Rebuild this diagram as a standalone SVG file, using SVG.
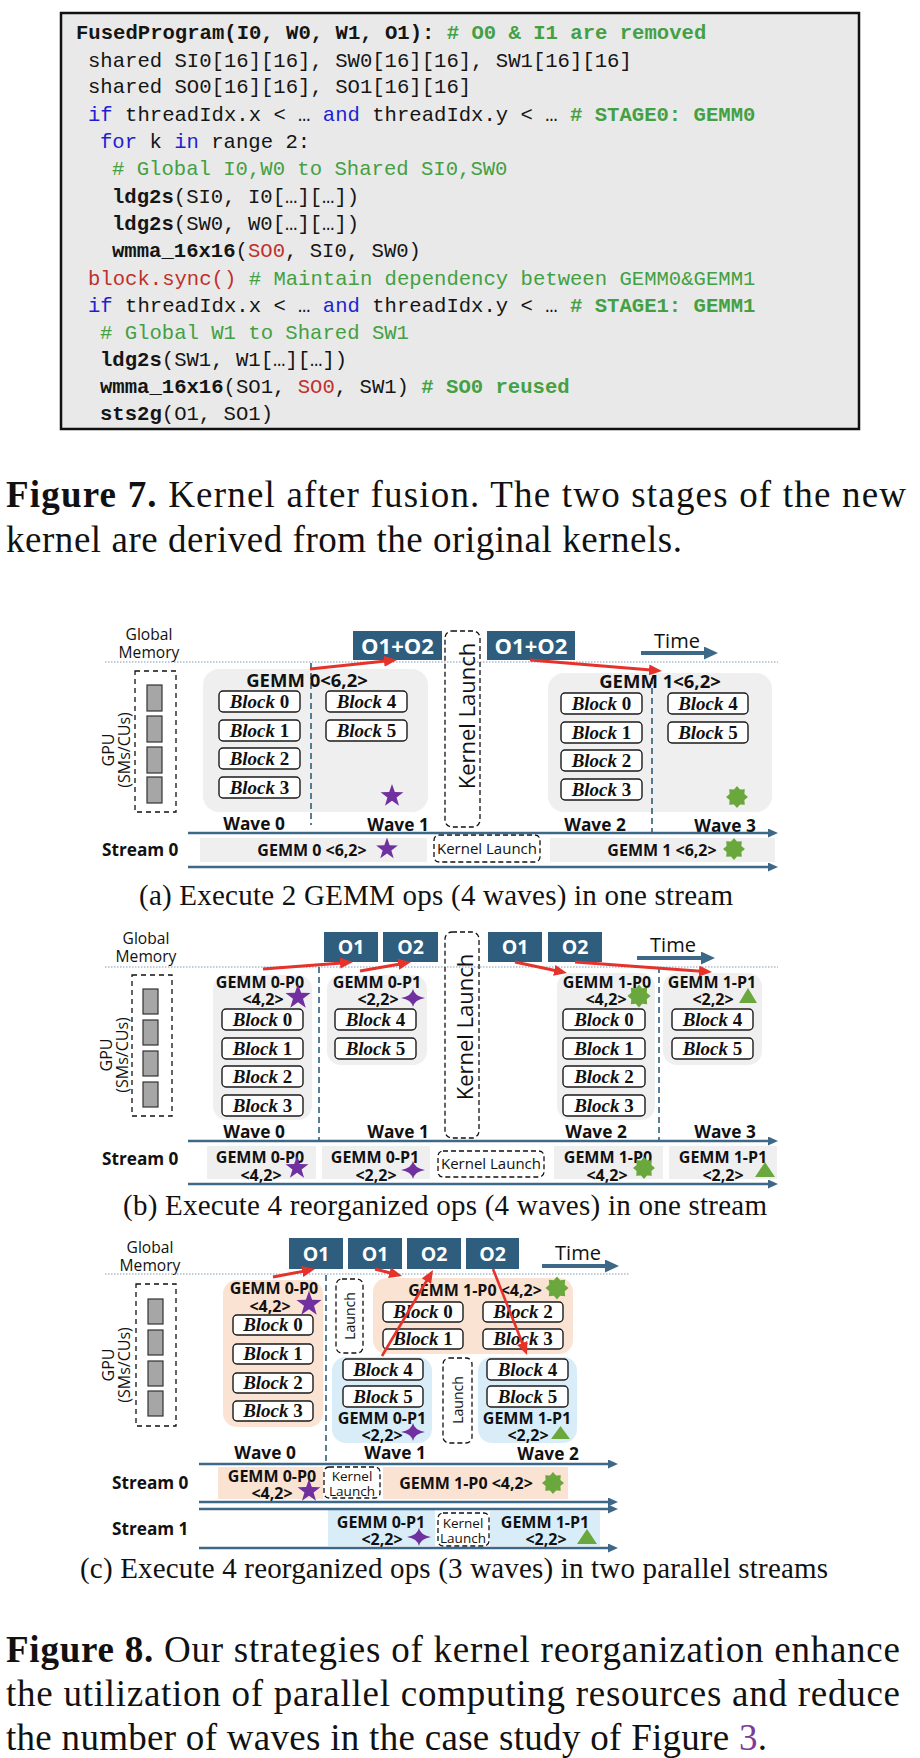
<svg xmlns="http://www.w3.org/2000/svg" width="920" height="1758" viewBox="0 0 920 1758">
<style>
.code{font-family:"Liberation Mono","DejaVu Sans Mono",monospace;font-size:20.6px;fill:#151515}
.cb{font-weight:700}
.kw{fill:#1f1fd1}
.cm{fill:#43a043}
.rd{fill:#c0302b}
.cap{font-family:"Liberation Serif","Times New Roman",serif;fill:#111}
.s{font-family:"Open Sans","Noto Sans",sans-serif;fill:#111}
.gm{font-size:15.6px}
.time{font-size:20px}
.kl{font-size:22px}
.ob{font-size:22px;font-weight:700;fill:#fff}
.ob2{font-size:19.5px;font-weight:700;fill:#fff}
.glab{font-size:18.5px;font-weight:700}
.plab{font-size:16px;font-weight:700}
.wave{font-size:17.3px;font-weight:700}
.strm{font-size:17.2px;font-weight:700}
.gpu{font-size:16px}
.skl{font-size:15px}
.tiny{font-size:13.5px}
.blk{fill:#fff;stroke:#1a1a1a;stroke-width:1.4}
.blt{font-family:"Liberation Serif","Times New Roman",serif;font-weight:700;font-style:italic;font-size:19px;fill:#111}
.obox{fill:#2e5d7d}
.gray{fill:#efefef}
.peach{fill:#fbe3d3}
.blue{fill:#d9edf8}
.dash{fill:none;stroke:#111;stroke-width:1.3;stroke-dasharray:5 3}
.wsep{stroke:#2e5d7d;stroke-width:1.6;stroke-dasharray:6 4}
.dot{stroke:#7f9db8;stroke-width:1.2;stroke-dasharray:1.5 1.5}
.sl{stroke:#3d6888;stroke-width:2.4;marker-end:url(#ba)}
.tl{stroke:#3d6888;stroke-width:4;marker-end:url(#ta)}
.ra{stroke:#e5322a;stroke-width:3;marker-end:url(#ra)}
.sm{fill:#a6a6a6;stroke:#333;stroke-width:1.2}
.pur{fill:#7030a0}
.grn{fill:#6aa83e}
</style>
<defs>
<marker id="ba" markerUnits="userSpaceOnUse" markerWidth="10" markerHeight="9" viewBox="0 0 10 9" refX="1" refY="4.5" orient="auto"><path d="M0,0 L10,4.5 L0,9 Z" fill="#3d6888"/></marker>
<marker id="ta" markerUnits="userSpaceOnUse" markerWidth="14" markerHeight="13" viewBox="0 0 14 13" refX="1" refY="6.5" orient="auto"><path d="M0,0 L14,6.5 L0,13 Z" fill="#3d6888"/></marker>
<marker id="ra" markerUnits="userSpaceOnUse" markerWidth="13" markerHeight="11" viewBox="0 0 13 11" refX="2" refY="5.5" orient="auto"><path d="M0,0 L13,5.5 L0,11 Z" fill="#e5322a"/></marker>
<path id="st5" d="M0,-12 L2.82,-3.88 L11.41,-3.71 L4.57,1.48 L7.05,9.71 L0,4.8 L-7.05,9.71 L-4.57,1.48 L-11.41,-3.71 L-2.82,-3.88 Z"/>
<path id="st4" d="M0,-9 Q1.6,-1.6 12,0 Q1.6,1.6 0,9 Q-1.6,1.6 -12,0 Q-1.6,-1.6 0,-9 Z"/>
<path id="brst" d="M0,-11 L3.06,-7.39 L7.78,-7.78 L7.39,-3.06 L11,0 L7.39,3.06 L7.78,7.78 L3.06,7.39 L0,11 L-3.06,7.39 L-7.78,7.78 L-7.39,3.06 L-11,0 L-7.39,-3.06 L-7.78,-7.78 L-3.06,-7.39 Z"/>
</defs>
<rect width="920" height="1758" fill="#fff"/>

<!-- Figure 7 code -->
<g id="code">
<rect x="61" y="13" width="798" height="416" fill="#e9e9e9" stroke="#111" stroke-width="2.5"/>
<text class="code" x="76" y="39"><tspan class="cb">FusedProgram(I0, W0, W1, O1): </tspan><tspan class="cb cm"># O0 &amp; I1 are removed</tspan></text>
<text class="code" x="88" y="67">shared SI0[16][16], SW0[16][16], SW1[16][16]</text>
<text class="code" x="88" y="93">shared SO0[16][16], SO1[16][16]</text>
<text class="code" x="88" y="121"><tspan class="kw">if</tspan> threadIdx.x &lt; … <tspan class="kw">and</tspan> threadIdx.y &lt; … <tspan class="cb cm"># STAGE0: GEMM0</tspan></text>
<text class="code" x="100" y="148"><tspan class="kw">for</tspan> k <tspan class="kw">in</tspan> range 2:</text>
<text class="code cm" x="112" y="175"># Global I0,W0 to Shared SI0,SW0</text>
<text class="code" x="112" y="203"><tspan class="cb">ldg2s</tspan>(SI0, I0[…][…])</text>
<text class="code" x="112" y="230"><tspan class="cb">ldg2s</tspan>(SW0, W0[…][…])</text>
<text class="code" x="112" y="257"><tspan class="cb">wmma_16x16</tspan>(<tspan class="rd">SO0</tspan>, SI0, SW0)</text>
<text class="code" x="88" y="285"><tspan class="rd">block.sync()</tspan> <tspan class="cm"># Maintain dependency between GEMM0&amp;GEMM1</tspan></text>
<text class="code" x="88" y="312"><tspan class="kw">if</tspan> threadIdx.x &lt; … <tspan class="kw">and</tspan> threadIdx.y &lt; … <tspan class="cb cm"># STAGE1: GEMM1</tspan></text>
<text class="code cm" x="100" y="339"># Global W1 to Shared SW1</text>
<text class="code" x="100" y="366"><tspan class="cb">ldg2s</tspan>(SW1, W1[…][…])</text>
<text class="code" x="100" y="393"><tspan class="cb">wmma_16x16</tspan>(SO1, <tspan class="rd">SO0</tspan>, SW1) <tspan class="cb cm"># SO0 reused</tspan></text>
<text class="code" x="100" y="420"><tspan class="cb">sts2g</tspan>(O1, SO1)</text>
</g>

<g id="fig7-caption">
<text class="cap" x="6" y="507" font-size="37" textLength="900" lengthAdjust="spacing"><tspan font-weight="700">Figure 7.</tspan> Kernel after fusion. The two stages of the new</text>
<text class="cap" x="6" y="552" font-size="37" textLength="676" lengthAdjust="spacing">kernel are derived from the original kernels.</text>
</g>

<!-- ===== (a) ===== -->
<g id="a-labels">
<text class="s gm" x="149" y="640" text-anchor="middle">Global</text>
<text class="s gm" x="149" y="658" text-anchor="middle">Memory</text>
<line class="dot" x1="105" y1="662" x2="778" y2="662"/>
<text class="s time" x="677" y="648" text-anchor="middle">Time</text>
<line class="tl" x1="641" y1="653" x2="705" y2="653"/>
<text class="s strm" x="102" y="856">Stream 0</text>
<text class="s wave" x="254" y="830" text-anchor="middle">Wave 0</text>
<text class="s wave" x="398" y="831" text-anchor="middle">Wave 1</text>
<text class="s wave" x="595" y="831" text-anchor="middle">Wave 2</text>
<text class="s wave" x="725" y="832" text-anchor="middle">Wave 3</text>
</g>
<g id="a-gpu">
<rect class="dash" x="135" y="671" width="41" height="141" style="stroke-dasharray:5 4"/>
<rect class="sm" x="147" y="685" width="15" height="26"/>
<rect class="sm" x="147" y="716" width="15" height="26"/>
<rect class="sm" x="147" y="747" width="15" height="26"/>
<rect class="sm" x="147" y="777" width="15" height="26"/>
<text class="s gpu" transform="translate(114,750) rotate(-90)" text-anchor="middle">GPU</text>
<text class="s gpu" transform="translate(130,750) rotate(-90)" text-anchor="middle">(SMs/CUs)</text>
</g>
<g id="a-o1">
<rect class="obox" x="353" y="631" width="89" height="29"/>
<text class="s ob" x="397.5" y="653.5" text-anchor="middle">O1+O2</text>
</g>
<g id="a-o2">
<rect class="obox" x="487" y="631" width="88" height="29"/>
<text class="s ob" x="531" y="653.5" text-anchor="middle">O1+O2</text>
</g>
<g id="a-launch">
<rect class="dash" x="445" y="631" width="35" height="196" rx="7"/>
<text class="s kl" transform="translate(475,716) rotate(-90)" text-anchor="middle">Kernel Launch</text>
</g>
<g id="a-gemm0">
<rect class="gray" x="203" y="669" width="225" height="143" rx="16"/>
<line class="wsep" x1="311" y1="663" x2="311" y2="825"/>
<text class="s glab" x="307" y="687" text-anchor="middle">GEMM 0&lt;6,2&gt;</text>
<rect class="blk" x="219" y="691" width="81" height="21" rx="4"/><text class="blt" x="259.5" y="707.5" text-anchor="middle">Block <tspan font-style="normal">0</tspan></text>
<rect class="blk" x="219" y="720" width="81" height="21" rx="4"/><text class="blt" x="259.5" y="736.5" text-anchor="middle">Block <tspan font-style="normal">1</tspan></text>
<rect class="blk" x="219" y="748" width="81" height="21" rx="4"/><text class="blt" x="259.5" y="764.5" text-anchor="middle">Block <tspan font-style="normal">2</tspan></text>
<rect class="blk" x="219" y="777" width="81" height="21" rx="4"/><text class="blt" x="259.5" y="793.5" text-anchor="middle">Block <tspan font-style="normal">3</tspan></text>
<rect class="blk" x="326" y="691" width="81" height="21" rx="4"/><text class="blt" x="366.5" y="707.5" text-anchor="middle">Block <tspan font-style="normal">4</tspan></text>
<rect class="blk" x="326" y="720" width="81" height="21" rx="4"/><text class="blt" x="366.5" y="736.5" text-anchor="middle">Block <tspan font-style="normal">5</tspan></text>
<use href="#st5" class="pur" transform="translate(392,796)"/>
</g>
<g id="a-gemm1">
<rect class="gray" x="548" y="673" width="224" height="139" rx="16"/>
<line class="wsep" x1="652" y1="668" x2="652" y2="832"/>
<text class="s glab" x="660" y="688" text-anchor="middle">GEMM 1&lt;6,2&gt;</text>
<rect class="blk" x="561" y="693" width="81" height="21" rx="4"/><text class="blt" x="601.5" y="709.5" text-anchor="middle">Block <tspan font-style="normal">0</tspan></text>
<rect class="blk" x="561" y="722" width="81" height="21" rx="4"/><text class="blt" x="601.5" y="738.5" text-anchor="middle">Block <tspan font-style="normal">1</tspan></text>
<rect class="blk" x="561" y="750" width="81" height="21" rx="4"/><text class="blt" x="601.5" y="766.5" text-anchor="middle">Block <tspan font-style="normal">2</tspan></text>
<rect class="blk" x="561" y="779" width="81" height="21" rx="4"/><text class="blt" x="601.5" y="795.5" text-anchor="middle">Block <tspan font-style="normal">3</tspan></text>
<rect class="blk" x="668" y="693" width="80" height="21" rx="4"/><text class="blt" x="708" y="709.5" text-anchor="middle">Block <tspan font-style="normal">4</tspan></text>
<rect class="blk" x="668" y="722" width="80" height="21" rx="4"/><text class="blt" x="708" y="738.5" text-anchor="middle">Block <tspan font-style="normal">5</tspan></text>
<use href="#brst" class="grn" transform="translate(737,797)"/>
</g>
<g id="a-stream">
<rect class="gray" x="200" y="838" width="227" height="24"/>
<text class="s plab" x="312" y="856" text-anchor="middle" font-size="16.3">GEMM 0 &lt;6,2&gt;</text>
<use href="#st5" class="pur" transform="translate(387,849) scale(0.95)"/>
<rect class="dash" x="434" y="835" width="106" height="27" rx="5"/>
<text class="s skl" x="487" y="854" text-anchor="middle">Kernel Launch</text>
<rect class="gray" x="550" y="838" width="225" height="24"/>
<text class="s plab" x="662" y="856" text-anchor="middle" font-size="16.3">GEMM 1 &lt;6,2&gt;</text>
<use href="#brst" class="grn" transform="translate(734,849)"/>
</g>
<text id="a-caption" class="cap" x="139" y="905" font-size="29" textLength="594" lengthAdjust="spacing">(a) Execute 2 GEMM ops (4 waves) in one stream</text>

<!-- ===== (b) ===== -->
<g id="b-labels">
<text class="s gm" x="146" y="944" text-anchor="middle">Global</text>
<text class="s gm" x="146" y="962" text-anchor="middle">Memory</text>
<line class="dot" x1="105" y1="967" x2="778" y2="967"/>
<text class="s time" x="673" y="952" text-anchor="middle">Time</text>
<line class="tl" x1="637" y1="958" x2="702" y2="958"/>
<text class="s strm" x="102" y="1165">Stream 0</text>
<text class="s wave" x="254" y="1138" text-anchor="middle">Wave 0</text>
<text class="s wave" x="398" y="1138" text-anchor="middle">Wave 1</text>
<text class="s wave" x="596" y="1138" text-anchor="middle">Wave 2</text>
<text class="s wave" x="725" y="1138" text-anchor="middle">Wave 3</text>
</g>
<g id="b-gpu">
<rect class="dash" x="132" y="975" width="40" height="141" style="stroke-dasharray:5 4"/>
<rect class="sm" x="143" y="989" width="15" height="25"/>
<rect class="sm" x="143" y="1020" width="15" height="25"/>
<rect class="sm" x="143" y="1051" width="15" height="25"/>
<rect class="sm" x="143" y="1082" width="15" height="25"/>
<text class="s gpu" transform="translate(112,1055) rotate(-90)" text-anchor="middle">GPU</text>
<text class="s gpu" transform="translate(128,1055) rotate(-90)" text-anchor="middle">(SMs/CUs)</text>
</g>
<g id="b-o">
<rect class="obox" x="324" y="932" width="54" height="30"/><text class="s ob2" x="351" y="954" text-anchor="middle">O1</text>
<rect class="obox" x="383" y="932" width="55" height="30"/><text class="s ob2" x="410.5" y="954" text-anchor="middle">O2</text>
<rect class="obox" x="488" y="932" width="54" height="30"/><text class="s ob2" x="515" y="954" text-anchor="middle">O1</text>
<rect class="obox" x="548" y="932" width="54" height="30"/><text class="s ob2" x="575" y="954" text-anchor="middle">O2</text>
</g>
<g id="b-launch">
<rect class="dash" x="445" y="932" width="34" height="206" rx="7"/>
<text class="s kl" transform="translate(473,1027) rotate(-90)" text-anchor="middle">Kernel Launch</text>
</g>
<g id="b-gemm0p0">
<rect class="gray" x="213" y="975" width="99" height="145" rx="14"/>
<text class="s plab" x="260" y="988" text-anchor="middle">GEMM 0-P0</text>
<text class="s plab" x="263" y="1005" text-anchor="middle">&lt;4,2&gt;</text>
<use href="#st5" class="pur" transform="translate(298,997) scale(1.1)"/>
<rect class="blk" x="222" y="1009" width="81" height="21" rx="4"/><text class="blt" x="262.5" y="1025.5" text-anchor="middle">Block <tspan font-style="normal">0</tspan></text>
<rect class="blk" x="222" y="1038" width="81" height="21" rx="4"/><text class="blt" x="262.5" y="1054.5" text-anchor="middle">Block <tspan font-style="normal">1</tspan></text>
<rect class="blk" x="222" y="1066" width="81" height="21" rx="4"/><text class="blt" x="262.5" y="1082.5" text-anchor="middle">Block <tspan font-style="normal">2</tspan></text>
<rect class="blk" x="222" y="1095" width="81" height="21" rx="4"/><text class="blt" x="262.5" y="1111.5" text-anchor="middle">Block <tspan font-style="normal">3</tspan></text>
</g>
<line class="wsep" x1="319" y1="967" x2="319" y2="1140"/>
<g id="b-gemm0p1">
<rect class="gray" x="327" y="975" width="100" height="90" rx="14"/>
<text class="s plab" x="377" y="988" text-anchor="middle">GEMM 0-P1</text>
<text class="s plab" x="378" y="1005" text-anchor="middle">&lt;2,2&gt;</text>
<use href="#st4" class="pur" transform="translate(413,998)"/>
<rect class="blk" x="335" y="1009" width="81" height="21" rx="4"/><text class="blt" x="375.5" y="1025.5" text-anchor="middle">Block <tspan font-style="normal">4</tspan></text>
<rect class="blk" x="335" y="1038" width="81" height="21" rx="4"/><text class="blt" x="375.5" y="1054.5" text-anchor="middle">Block <tspan font-style="normal">5</tspan></text>
</g>
<g id="b-gemm1p0">
<rect class="gray" x="557" y="973" width="98" height="147" rx="14"/>
<text class="s plab" x="607" y="988" text-anchor="middle">GEMM 1-P0</text>
<text class="s plab" x="606" y="1005" text-anchor="middle">&lt;4,2&gt;</text>
<use href="#brst" class="grn" transform="translate(639,996) scale(1.05)"/>
<rect class="blk" x="563" y="1009" width="82" height="21" rx="4"/><text class="blt" x="604" y="1025.5" text-anchor="middle">Block <tspan font-style="normal">0</tspan></text>
<rect class="blk" x="563" y="1038" width="82" height="21" rx="4"/><text class="blt" x="604" y="1054.5" text-anchor="middle">Block <tspan font-style="normal">1</tspan></text>
<rect class="blk" x="563" y="1066" width="82" height="21" rx="4"/><text class="blt" x="604" y="1082.5" text-anchor="middle">Block <tspan font-style="normal">2</tspan></text>
<rect class="blk" x="563" y="1095" width="82" height="21" rx="4"/><text class="blt" x="604" y="1111.5" text-anchor="middle">Block <tspan font-style="normal">3</tspan></text>
</g>
<line class="wsep" x1="659" y1="967" x2="659" y2="1140"/>
<g id="b-gemm1p1">
<rect class="gray" x="663" y="973" width="99" height="92" rx="14"/>
<text class="s plab" x="712" y="988" text-anchor="middle">GEMM 1-P1</text>
<text class="s plab" x="713" y="1005" text-anchor="middle">&lt;2,2&gt;</text>
<polygon class="grn" points="739,1003 748,988 757,1003"/>
<rect class="blk" x="672" y="1009" width="81" height="21" rx="4"/><text class="blt" x="712.5" y="1025.5" text-anchor="middle">Block <tspan font-style="normal">4</tspan></text>
<rect class="blk" x="672" y="1038" width="81" height="21" rx="4"/><text class="blt" x="712.5" y="1054.5" text-anchor="middle">Block <tspan font-style="normal">5</tspan></text>
</g>
<g id="b-stream">
<rect class="gray" x="207" y="1146" width="109" height="33"/>
<text class="s plab" x="260" y="1163" text-anchor="middle">GEMM 0-P0</text>
<text class="s plab" x="261" y="1181" text-anchor="middle">&lt;4,2&gt;</text>
<use href="#st5" class="pur" transform="translate(297,1168)"/>
<rect class="gray" x="322" y="1146" width="108" height="33"/>
<text class="s plab" x="375" y="1163" text-anchor="middle">GEMM 0-P1</text>
<text class="s plab" x="376" y="1181" text-anchor="middle">&lt;2,2&gt;</text>
<use href="#st4" class="pur" transform="translate(413,1170)"/>
<rect class="dash" x="438" y="1151" width="106" height="26" rx="5"/>
<text class="s skl" x="491" y="1169" text-anchor="middle">Kernel Launch</text>
<rect class="gray" x="554" y="1146" width="109" height="33"/>
<text class="s plab" x="608" y="1163" text-anchor="middle">GEMM 1-P0</text>
<text class="s plab" x="607" y="1181" text-anchor="middle">&lt;4,2&gt;</text>
<use href="#brst" class="grn" transform="translate(644,1168)"/>
<rect class="gray" x="669" y="1146" width="108" height="33"/>
<text class="s plab" x="723" y="1163" text-anchor="middle">GEMM 1-P1</text>
<text class="s plab" x="723" y="1181" text-anchor="middle">&lt;2,2&gt;</text>
<polygon class="grn" points="755,1177 765,1162 775,1177"/>
</g>
<text id="b-caption" class="cap" x="123" y="1215" font-size="29" textLength="644" lengthAdjust="spacing">(b) Execute 4 reorganized ops (4 waves) in one stream</text>

<!-- ===== (c) ===== -->
<g id="c-labels">
<text class="s gm" x="150" y="1253" text-anchor="middle">Global</text>
<text class="s gm" x="150" y="1271" text-anchor="middle">Memory</text>
<line class="dot" x1="105" y1="1274" x2="630" y2="1274"/>
<text class="s time" x="578" y="1260" text-anchor="middle">Time</text>
<line class="tl" x1="542" y1="1266" x2="606" y2="1266"/>
<text class="s strm" x="112" y="1489">Stream 0</text>
<text class="s strm" x="112" y="1535">Stream 1</text>
<text class="s wave" x="265" y="1459" text-anchor="middle">Wave 0</text>
<text class="s wave" x="395" y="1459" text-anchor="middle">Wave 1</text>
<text class="s wave" x="548" y="1460" text-anchor="middle">Wave 2</text>
</g>
<g id="c-gpu">
<rect class="dash" x="136" y="1284" width="40" height="142" style="stroke-dasharray:5 4"/>
<rect class="sm" x="148" y="1299" width="15" height="25"/>
<rect class="sm" x="148" y="1330" width="15" height="25"/>
<rect class="sm" x="148" y="1361" width="15" height="25"/>
<rect class="sm" x="148" y="1391" width="15" height="25"/>
<text class="s gpu" transform="translate(114,1365) rotate(-90)" text-anchor="middle">GPU</text>
<text class="s gpu" transform="translate(130,1365) rotate(-90)" text-anchor="middle">(SMs/CUs)</text>
</g>
<g id="c-o">
<rect class="obox" x="289" y="1238" width="54" height="31"/><text class="s ob2" x="316" y="1261" text-anchor="middle">O1</text>
<rect class="obox" x="348" y="1238" width="54" height="31"/><text class="s ob2" x="375" y="1261" text-anchor="middle">O1</text>
<rect class="obox" x="407" y="1238" width="54" height="31"/><text class="s ob2" x="434" y="1261" text-anchor="middle">O2</text>
<rect class="obox" x="466" y="1238" width="53" height="31"/><text class="s ob2" x="492.5" y="1261" text-anchor="middle">O2</text>
</g>
<g id="c-gemm0p0">
<rect class="peach" x="223" y="1280" width="100" height="147" rx="14"/>
<text class="s plab" x="274" y="1294" text-anchor="middle">GEMM 0-P0</text>
<text class="s plab" x="270" y="1312" text-anchor="middle">&lt;4,2&gt;</text>
<use href="#st5" class="pur" transform="translate(309,1304) scale(1.1)"/>
<rect class="blk" x="233" y="1315" width="80" height="20" rx="4"/><text class="blt" x="273" y="1331" text-anchor="middle">Block <tspan font-style="normal">0</tspan></text>
<rect class="blk" x="233" y="1344" width="80" height="20" rx="4"/><text class="blt" x="273" y="1360" text-anchor="middle">Block <tspan font-style="normal">1</tspan></text>
<rect class="blk" x="233" y="1373" width="80" height="20" rx="4"/><text class="blt" x="273" y="1389" text-anchor="middle">Block <tspan font-style="normal">2</tspan></text>
<rect class="blk" x="233" y="1401" width="80" height="20" rx="4"/><text class="blt" x="273" y="1417" text-anchor="middle">Block <tspan font-style="normal">3</tspan></text>
</g>
<line class="wsep" x1="326" y1="1275" x2="326" y2="1463"/>
<g id="c-launch1">
<rect class="dash" x="336" y="1279" width="27" height="74" rx="6"/>
<text class="s" font-size="14" transform="translate(355,1316) rotate(-90)" text-anchor="middle">Launch</text>
</g>
<g id="c-gemm1p0">
<rect class="peach" x="373" y="1278" width="200" height="76" rx="14"/>
<text class="s plab" x="475" y="1296" text-anchor="middle" font-size="16.3">GEMM 1-P0 &lt;4,2&gt;</text>
<use href="#brst" class="grn" transform="translate(557,1288) scale(1.05)"/>
<rect class="blk" x="383" y="1302" width="80" height="20" rx="4"/><text class="blt" x="423" y="1318" text-anchor="middle">Block <tspan font-style="normal">0</tspan></text>
<rect class="blk" x="383" y="1329" width="80" height="20" rx="4"/><text class="blt" x="423" y="1345" text-anchor="middle">Block <tspan font-style="normal">1</tspan></text>
<rect class="blk" x="483" y="1302" width="80" height="20" rx="4"/><text class="blt" x="523" y="1318" text-anchor="middle">Block <tspan font-style="normal">2</tspan></text>
<rect class="blk" x="483" y="1329" width="80" height="20" rx="4"/><text class="blt" x="523" y="1345" text-anchor="middle">Block <tspan font-style="normal">3</tspan></text>
</g>
<g id="c-gemm0p1">
<rect class="blue" x="332" y="1357" width="100" height="86" rx="14"/>
<rect class="blk" x="343" y="1359" width="80" height="21" rx="4"/><text class="blt" x="383" y="1375.5" text-anchor="middle">Block <tspan font-style="normal">4</tspan></text>
<rect class="blk" x="343" y="1386" width="80" height="21" rx="4"/><text class="blt" x="383" y="1402.5" text-anchor="middle">Block <tspan font-style="normal">5</tspan></text>
<text class="s plab" x="382" y="1424" text-anchor="middle">GEMM 0-P1</text>
<text class="s plab" x="382" y="1441" text-anchor="middle">&lt;2,2&gt;</text>
<use href="#st4" class="pur" transform="translate(413,1432)"/>
</g>
<g id="c-launch2">
<rect class="dash" x="443" y="1358" width="29" height="85" rx="6"/>
<text class="s" font-size="14" transform="translate(463,1400) rotate(-90)" text-anchor="middle">Launch</text>
</g>
<g id="c-gemm1p1">
<rect class="blue" x="478" y="1357" width="99" height="86" rx="14"/>
<rect class="blk" x="487" y="1359" width="81" height="21" rx="4"/><text class="blt" x="527.5" y="1375.5" text-anchor="middle">Block <tspan font-style="normal">4</tspan></text>
<rect class="blk" x="487" y="1386" width="81" height="21" rx="4"/><text class="blt" x="527.5" y="1402.5" text-anchor="middle">Block <tspan font-style="normal">5</tspan></text>
<text class="s plab" x="527" y="1424" text-anchor="middle">GEMM 1-P1</text>
<text class="s plab" x="528" y="1441" text-anchor="middle">&lt;2,2&gt;</text>
<polygon class="grn" points="551,1439 560.5,1426 570,1439"/>
</g>
<g id="c-stream0">
<rect class="peach" x="218" y="1467" width="105" height="32"/>
<text class="s plab" x="272" y="1482" text-anchor="middle">GEMM 0-P0</text>
<text class="s plab" x="272" y="1499" text-anchor="middle">&lt;4,2&gt;</text>
<use href="#st5" class="pur" transform="translate(309,1491)"/>
<rect class="dash" x="324" y="1467" width="56" height="31" rx="5"/>
<text class="s tiny" x="352" y="1481" text-anchor="middle">Kernel</text>
<text class="s tiny" x="352" y="1496" text-anchor="middle">Launch</text>
<rect class="peach" x="383" y="1467" width="185" height="32"/>
<text class="s plab" x="466" y="1489" text-anchor="middle" font-size="16.3">GEMM 1-P0 &lt;4,2&gt;</text>
<use href="#brst" class="grn" transform="translate(553,1483)"/>
</g>
<g id="c-stream1">
<rect class="blue" x="328" y="1510" width="107" height="36"/>
<text class="s plab" x="381" y="1528" text-anchor="middle">GEMM 0-P1</text>
<text class="s plab" x="382" y="1545" text-anchor="middle">&lt;2,2&gt;</text>
<use href="#st4" class="pur" transform="translate(419,1537)"/>
<rect class="dash" x="438" y="1513" width="51" height="33" rx="5"/>
<text class="s tiny" x="463" y="1528" text-anchor="middle">Kernel</text>
<text class="s tiny" x="463" y="1543" text-anchor="middle">Launch</text>
<rect class="blue" x="490" y="1511" width="110" height="35"/>
<text class="s plab" x="545" y="1528" text-anchor="middle">GEMM 1-P1</text>
<text class="s plab" x="546" y="1545" text-anchor="middle">&lt;2,2&gt;</text>
<polygon class="grn" points="577,1544 587,1529 597,1544"/>
</g>
<text id="c-caption" class="cap" x="80" y="1578" font-size="29" textLength="748" lengthAdjust="spacing">(c) Execute 4 reorganized ops (3 waves) in two parallel streams</text>

<g id="connectors">
<line class="sl" x1="188" y1="833" x2="769" y2="833"/>
<line class="sl" x1="188" y1="867" x2="769" y2="867"/>
<line class="sl" x1="188" y1="1141" x2="769" y2="1141"/>
<line class="sl" x1="188" y1="1184" x2="769" y2="1184"/>
<line class="sl" x1="199" y1="1464" x2="609" y2="1464"/>
<line class="sl" x1="199" y1="1502" x2="609" y2="1502"/>
<line class="sl" x1="199" y1="1509" x2="609" y2="1509"/>
<line class="sl" x1="199" y1="1548" x2="609" y2="1548"/>
<line class="ra" x1="310" y1="669" x2="386" y2="661.1"/>
<line class="ra" x1="530" y1="660" x2="651" y2="670.1"/>
<line class="ra" x1="263" y1="969" x2="342" y2="962.9"/>
<line class="ra" x1="360" y1="971" x2="400.2" y2="963.9"/>
<line class="ra" x1="515" y1="962" x2="556.2" y2="970.7"/>
<line class="ra" x1="575" y1="962" x2="701" y2="971.2"/>
<line class="ra" x1="273" y1="1277" x2="304.2" y2="1271.1"/>
<line class="ra" x1="375" y1="1269" x2="391.4" y2="1273.2"/>
<line class="ra" x1="382" y1="1356" x2="427.4" y2="1279.5" style="stroke-width:2.6"/>
<line class="ra" x1="493" y1="1269" x2="523" y2="1344.8" style="stroke-width:2.6"/>
</g>

<g id="fig8-caption">
<text class="cap" x="6" y="1662" font-size="37" textLength="894" lengthAdjust="spacing"><tspan font-weight="700">Figure 8.</tspan> Our strategies of kernel reorganization enhance</text>
<text class="cap" x="6" y="1706" font-size="37" textLength="894" lengthAdjust="spacing">the utilization of parallel computing resources and reduce</text>
<text class="cap" x="6" y="1750" font-size="37" textLength="761" lengthAdjust="spacing">the number of waves in the case study of Figure <tspan fill="#7d3c98">3</tspan>.</text>
</g>
</svg>
